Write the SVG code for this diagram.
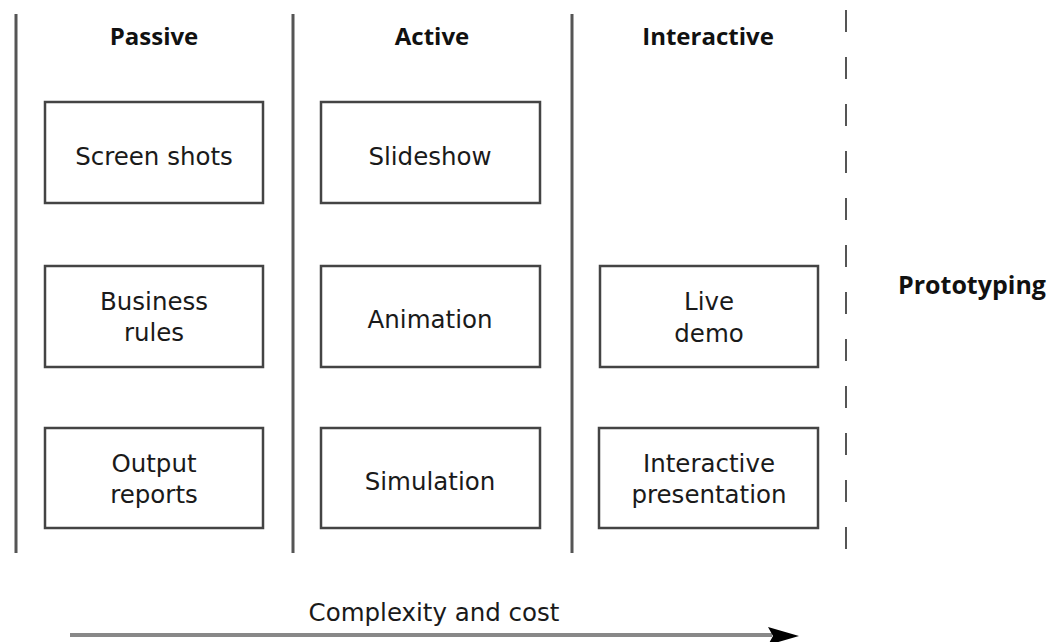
<svg xmlns="http://www.w3.org/2000/svg" width="1051" height="642" viewBox="0 0 1051 642">
<style>
.box{fill:#fff;stroke:#444;stroke-width:2.5}
.t{font-family:"DejaVu Sans","Open Sans",sans-serif;font-size:24.5px;fill:#1a1a1a;text-anchor:middle}
.h{font-family:"Open Sans","DejaVu Sans",sans-serif;font-size:24px;font-weight:bold;fill:#111;text-anchor:middle}
.sep{stroke:#555;stroke-width:3}
</style>
<rect width="1051" height="642" fill="#fff"/>
<g id="separators">
<line class="sep" x1="16" y1="14" x2="16" y2="553"/>
<line class="sep" x1="293" y1="14" x2="293" y2="553"/>
<line class="sep" x1="572" y1="14" x2="572" y2="553"/>
<line x1="846" y1="10" x2="846" y2="553" stroke="#555" stroke-width="2" stroke-dasharray="22 25"/>
</g>
<g id="headers">
<text class="h" x="154" y="45">Passive</text>
<text class="h" x="432" y="45">Active</text>
<text class="h" x="708" y="45">Interactive</text>
<text class="h" x="898" y="294" style="text-anchor:start;font-size:25px">Prototyping</text>
</g>
<g id="screen-shots"><rect class="box" x="45" y="102" width="218" height="101"/><text class="t" x="154" y="165">Screen shots</text></g>
<g id="business-rules"><rect class="box" x="45" y="266" width="218" height="101"/><text class="t" x="154" y="310">Business</text><text class="t" x="154" y="341">rules</text></g>
<g id="output-reports"><rect class="box" x="45" y="428" width="218" height="100"/><text class="t" x="154" y="472">Output</text><text class="t" x="154" y="503">reports</text></g>
<g id="slideshow"><rect class="box" x="321" y="102" width="219" height="101"/><text class="t" x="430" y="165">Slideshow</text></g>
<g id="animation"><rect class="box" x="321" y="266" width="219" height="101"/><text class="t" x="430" y="328">Animation</text></g>
<g id="simulation"><rect class="box" x="321" y="428" width="219" height="100"/><text class="t" x="430" y="490">Simulation</text></g>
<g id="live-demo"><rect class="box" x="600" y="266" width="218" height="101"/><text class="t" x="709" y="310">Live</text><text class="t" x="709" y="342">demo</text></g>
<g id="interactive-presentation"><rect class="box" x="599" y="428" width="219" height="100"/><text class="t" x="709" y="472">Interactive</text><text class="t" x="709" y="503">presentation</text></g>
<g id="connectors">
<line x1="70" y1="635" x2="772" y2="635" stroke="#888" stroke-width="4"/>
<polygon points="768,627 799,636 768,645 773,636" fill="#000"/>
<text class="t" x="434" y="621">Complexity and cost</text>
</g>
</svg>
